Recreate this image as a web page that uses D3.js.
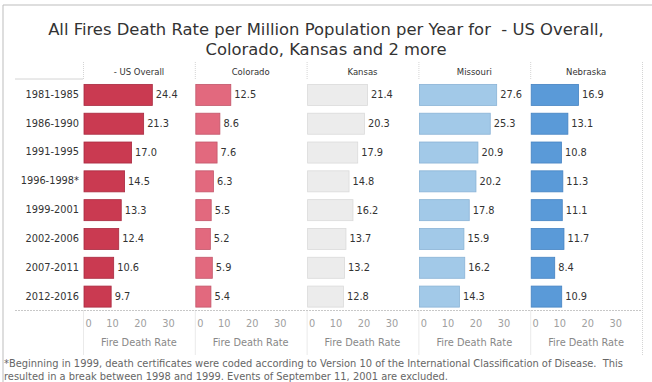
<!DOCTYPE html>
<html>
<head>
<meta charset="utf-8">
<script src="https://cdn.jsdelivr.net/npm/d3@7/dist/d3.min.js"></script>
<style>
  html, body { margin: 0; padding: 0; background: #fff; }
  svg { display: block; }
  text { white-space: pre; }
</style>
</head>
<body>
<svg id="chart" width="652" height="382"></svg>
<script>
// Fire death rate per million population per year, by period and region
const periods = ["1981-1985", "1986-1990", "1991-1995", "1996-1998*", "1999-2001", "2002-2006", "2007-2011", "2012-2016"];
const regions = ["- US Overall", "Colorado", "Kansas", "Missouri", "Nebraska"];
const usOverall = [24.4, 21.3, 17.0, 14.5, 13.3, 12.4, 10.6, 9.7];
const colorado  = [12.5, 8.6, 7.6, 6.3, 5.5, 5.2, 5.9, 5.4];
const kansas    = [21.4, 20.3, 17.9, 14.8, 16.2, 13.7, 13.2, 12.8];
const missouri  = [27.6, 25.3, 20.9, 20.2, 17.8, 15.9, 16.2, 14.3];
const nebraska  = [16.9, 13.1, 10.8, 11.3, 11.1, 11.7, 8.4, 10.9];
const xTicks = [0, 10, 20, 30];
const regionColors = ["#ca3a51", "#e2697e", "#ececec", "#a2c9e8", "#5a9ad8"];
const regionStrokes = ["#a82a40", "#c2566a", "#dadada", "#8ab3d6", "#4583c2"];

const titleLines = ["All Fires Death Rate per Million Population per Year for  - US Overall,", "Colorado, Kansas and 2 more"];
const footnoteLines = [
  "*Beginning in 1999, death certificates were coded according to Version 10 of the International Classification of Disease.  This",
  "resulted in a break between 1998 and 1999. Events of September 11, 2001 are excluded."
];

const series = [usOverall, colorado, kansas, missouri, nebraska];

const svg = d3.select("#chart");
const font = "DejaVu Sans, Verdana, sans-serif";

// layout
const panelLeft = 83, panelRight = 642;
const headerTop = 62, plotTop = 80, plotBottom = 310.5, axisBottom = 355;

const panelScale = d3.scaleBand().domain(regions).range([panelLeft, panelRight]);
const pw = panelScale.bandwidth();
const x = d3.scaleLinear().domain([0, 40]).range([1, 113]);
const y = d3.scaleBand().domain(periods).range([plotTop, plotBottom]).paddingInner(0.27).paddingOuter(0.135);

// frame edges
svg.append("line").attr("x1", 3).attr("x2", 652).attr("y1", 5).attr("y2", 5).attr("stroke", "#bdbdbd");
svg.append("line").attr("x1", 3).attr("x2", 3).attr("y1", 5).attr("y2", 382).attr("stroke", "#bdbdbd");

// title, two centred lines
const title = svg.append("text")
  .attr("text-anchor", "middle")
  .attr("font-family", font).attr("font-size", 16.4)
  .attr("fill", "#333");
title.selectAll("tspan").data(titleLines).join("tspan")
  .attr("x", 326).attr("y", (d, i) => 35 + i * 19.6).text(d => d);

const divider = "#d4d4d4";

// header row lines
svg.append("line").attr("x1", 15).attr("x2", panelLeft).attr("y1", plotTop - 1).attr("y2", plotTop - 1)
  .attr("stroke", divider);
regions.forEach(r => {
  svg.append("line").attr("x1", panelScale(r) + 0.5).attr("x2", panelScale(r) + 0.5)
    .attr("y1", headerTop).attr("y2", plotTop).attr("stroke", divider).attr("stroke-dasharray", "1,1");
});
svg.append("line").attr("x1", panelRight + 0.5).attr("x2", panelRight + 0.5)
  .attr("y1", headerTop).attr("y2", axisBottom).attr("stroke", divider).attr("stroke-dasharray", "1,1");

// header labels
svg.append("g").selectAll("text").data(regions).join("text")
  .attr("x", d => panelScale(d) + pw / 2).attr("y", 75)
  .attr("text-anchor", "middle").attr("font-family", font).attr("font-size", 8.5)
  .attr("fill", "#333").text(d => d);

// row labels
svg.append("g").selectAll("text").data(periods).join("text")
  .attr("x", 79).attr("y", d => y(d) + y.bandwidth() / 2)
  .attr("dy", "0.35em").attr("text-anchor", "end")
  .attr("font-family", font).attr("font-size", 9.8).attr("fill", "#333").text(d => d);

// panels of bars
regions.forEach((r, ri) => {
  const g = svg.append("g").attr("transform", `translate(${panelScale(r)},0)`);
  const vals = series[ri];
  g.selectAll("rect").data(vals).join("rect")
    .attr("x", x(0)).attr("y", (d, i) => y(periods[i]) + 0.5)
    .attr("width", d => x(d) - x(0)).attr("height", y.bandwidth())
    .attr("fill", regionColors[ri]).attr("stroke", regionStrokes[ri]).attr("stroke-width", 0.8);
  g.selectAll("text.val").data(vals).join("text").attr("class", "val")
    .attr("x", d => x(d) + 3.5).attr("y", (d, i) => y(periods[i]) + y.bandwidth() / 2 + 0.5)
    .attr("dy", "0.35em").attr("font-family", font).attr("font-size", 9.8).attr("fill", "#333")
    .text(d => d.toFixed(1));

  // bottom axis
  const ax = g.append("g").attr("transform", `translate(0,${plotBottom})`)
    .call(d3.axisBottom(x).tickValues(xTicks).tickSize(0).tickPadding(10).tickFormat(d3.format("d")));
  ax.select(".domain").remove();
  ax.selectAll("text").attr("font-family", font).attr("font-size", 9.8).attr("fill", "#a0a0a0")
    .attr("dx", d => d === 0 ? 4 : 0);

  g.append("text").attr("x", pw / 2).attr("y", 346).attr("text-anchor", "middle")
    .attr("font-family", font).attr("font-size", 9.8).attr("fill", "#888").text("Fire Death Rate");

  g.append("line").attr("x1", 0.5).attr("x2", 0.5).attr("y1", plotBottom).attr("y2", axisBottom)
    .attr("stroke", divider).attr("stroke-dasharray", "1,1");
});

// axis baseline
svg.append("line").attr("x1", 15).attr("x2", panelRight).attr("y1", plotBottom).attr("y2", plotBottom)
  .attr("stroke", "#c8c8c8").attr("stroke-dasharray", "2,1");

// footnote
svg.append("g").selectAll("text").data(footnoteLines).join("text")
  .attr("x", 4).attr("y", (d, i) => 367 + i * 12.5)
  .attr("font-family", font).attr("font-size", 9.9).attr("fill", "#666").text(d => d);
</script>
</body>
</html>
